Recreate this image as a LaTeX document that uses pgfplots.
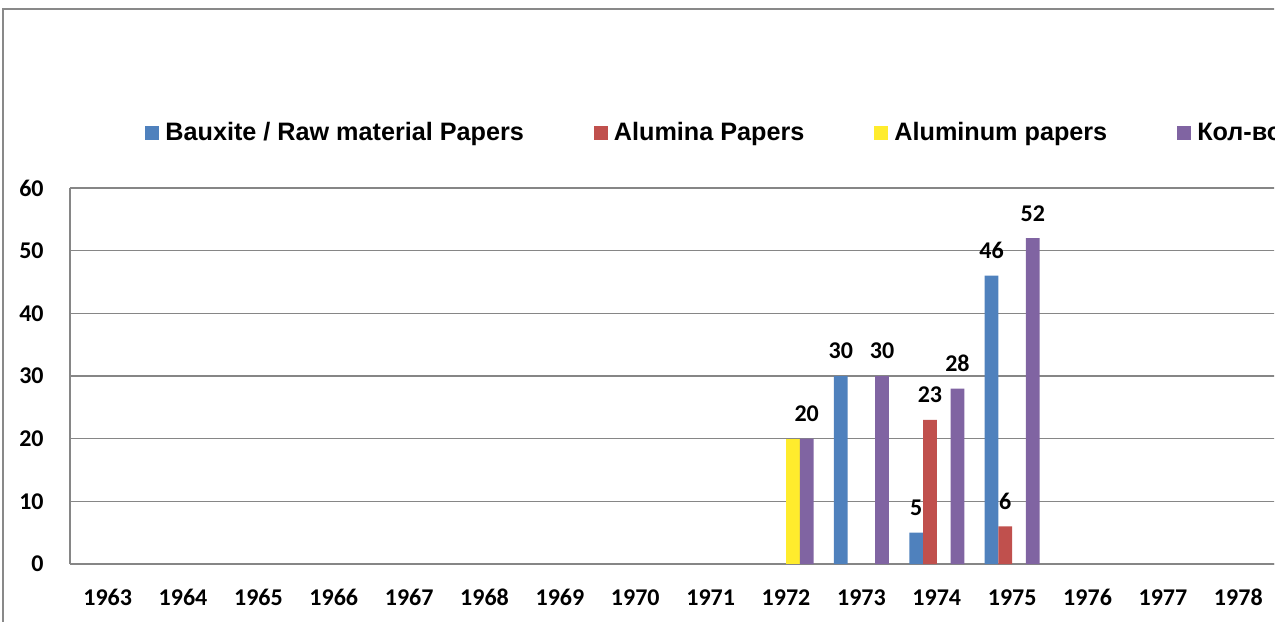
\documentclass[border=0pt]{standalone}
\usepackage{fontspec}
\setmainfont{Liberation Sans}
\newfontfamily\calfont{Carlito}
\usepackage{pgfplots}
\pgfplotsset{compat=1.18}
\definecolor{cblue}{RGB}{79,129,189}
\definecolor{cred}{RGB}{192,80,77}
\definecolor{cyellow}{RGB}{255,236,45}
\definecolor{cpurple}{RGB}{128,100,162}
\definecolor{gridgray}{RGB}{134,134,134}
\definecolor{framegray}{RGB}{137,137,137}
\pgfplotsset{sq legend/.style={/pgfplots/legend image code/.code={\fill[##1,draw=none] (0pt,-3.5pt) rectangle (7pt,3.5pt);}}}
\begin{document}
\begin{tikzpicture}
\useasboundingbox (0,0) rectangle (642pt,310.5pt);
\begin{scope}
\clip (0,0) rectangle (637pt,310.5pt);
\draw[color=framegray, line width=0.75pt] (1.5pt,-20pt) rectangle (700pt,306pt);
\begin{axis}[
  at={(35pt,28.5pt)}, anchor=south west,
  scale only axis, width=603pt, height=188pt,
  xmin=-0.5, xmax=15.5, ymin=0, ymax=60,
  ybar=0pt, bar width=6.875pt,
  xtick={0,...,15},
  xticklabels={1963,1964,1965,1966,1967,1968,1969,1970,1971,1972,1973,1974,1975,1976,1977,1978},
  ytick={0,10,20,30,40,50,60},
  ymajorgrids, grid style={draw=gridgray, line width=0.6pt},
  axis x line*=bottom, axis y line*=left,
  axis line style={draw=gridgray, line width=0.6pt},
  major tick length=0pt,
  /pgf/number format/assume math mode=true,
  tick label style={font=\calfont\bfseries\fontsize{12}{14}\selectfont, inner sep=0pt},
  yticklabel style={anchor=east, xshift=-13pt},
  xticklabel style={anchor=north, yshift=-12.5pt},
  every node near coord/.append style={font=\calfont\bfseries\fontsize{12}{14}\selectfont, anchor=south, inner sep=0pt, yshift=8.25pt, color=black},
  legend columns=4,
  legend cell align=left,
  legend style={at={(0.06219,1.14628)}, anchor=west, draw=none, fill=none, inner sep=0pt,
    nodes={inner sep=0pt, font=\bfseries\fontsize{12.6}{14}\selectfont},
    /tikz/every odd column/.append style={column sep=3pt},
    /tikz/every even column/.append style={column sep=35pt}},
]
\addplot[fill=cblue, draw=none, sq legend, nodes near coords] coordinates {(10,30) (11,5) (12,46)};
\addlegendentry{Bauxite / Raw material Papers}
\addplot[fill=cred, draw=none, sq legend, nodes near coords] coordinates {(11,23) (12,6)};
\addlegendentry{Alumina Papers}
\addplot[fill=cyellow, draw=none, sq legend] coordinates {(9,20)};
\addlegendentry{Aluminum papers}
\addplot[fill=cpurple, draw=none, sq legend, nodes near coords] coordinates {(9,20) (10,30) (11,28) (12,52)};
\addlegendentry{Кол-во статей}
\end{axis}
\end{scope}
\end{tikzpicture}
\end{document}
